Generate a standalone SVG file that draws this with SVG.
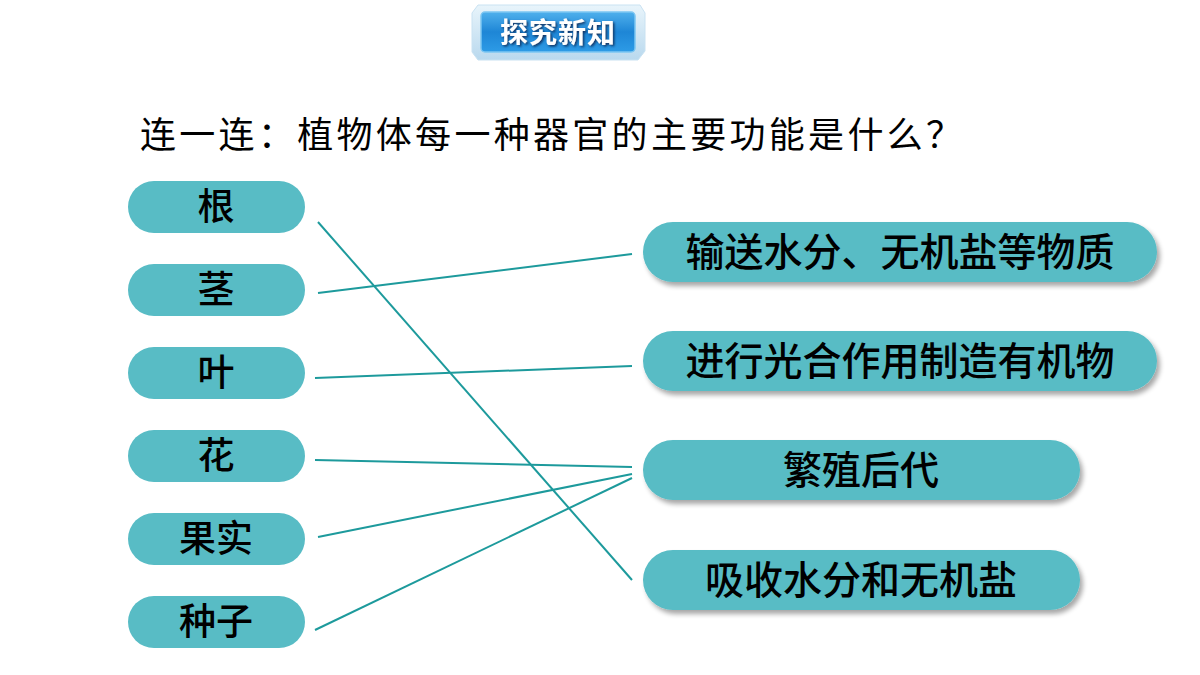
<svg xmlns="http://www.w3.org/2000/svg" width="1200" height="675" viewBox="0 0 1200 675">
<defs>
<filter id="sh" x="-10%" y="-30%" width="120%" height="170%">
<feGaussianBlur in="SourceAlpha" stdDeviation="2.5"/>
<feOffset dx="3" dy="4" result="b"/>
<feComponentTransfer><feFuncA type="linear" slope="0.35"/></feComponentTransfer>
<feMerge><feMergeNode/><feMergeNode in="SourceGraphic"/></feMerge>
</filter>
<filter id="ts" x="-10%" y="-30%" width="120%" height="160%">
<feDropShadow dx="1.5" dy="1.5" stdDeviation="0.8" flood-color="#0a2a55" flood-opacity="0.9"/>
</filter>
<linearGradient id="bg" x1="0" y1="0" x2="0" y2="1">
<stop offset="0" stop-color="#4fb0ec"/>
<stop offset="0.5" stop-color="#1e86d6"/>
<stop offset="1" stop-color="#2d9be6"/>
</linearGradient>
<linearGradient id="fr" x1="0" y1="0" x2="0" y2="1">
<stop offset="0" stop-color="#e8f4fb"/>
<stop offset="1" stop-color="#b9d9ee"/>
</linearGradient>
</defs>
<style>
.pill{fill:#58bcc5}
.lt{font-family:"Noto Sans CJK SC",sans-serif;font-weight:500;font-size:37px;fill:#000;text-anchor:middle}
.rt{font-family:"Noto Sans CJK SC",sans-serif;font-weight:500;font-size:39px;fill:#000;text-anchor:middle}
.ln{stroke:#1d9a9c;stroke-width:2;fill:none}
</style>
<rect width="1200" height="675" fill="#fff"/>
<g id="banner">
<path d="M478,5 H640 L645,13 V51 L638,60 H478 L472,52 V13 Z" fill="url(#fr)" stroke="#c9e2f2" stroke-width="1"/>
<rect x="481" y="12" width="154" height="40" rx="4" fill="url(#bg)" stroke="#7cc6f2" stroke-width="1.5"/>
<text x="558" y="43" font-family="Noto Sans CJK SC,sans-serif" font-size="28" font-weight="bold" fill="#fff" text-anchor="middle" letter-spacing="1" filter="url(#ts)">探究新知</text>
</g>
<g id="title">
<text x="140" y="148" font-family="Noto Sans CJK SC,sans-serif" font-size="36" fill="#000" textLength="822" lengthAdjust="spacing">连一连：植物体每一种器官的主要功能是什么？</text>
</g>
<g id="connectors">
<line class="ln" x1="318" y1="222" x2="632" y2="580"/>
<line class="ln" x1="318" y1="293" x2="632" y2="254"/>
<line class="ln" x1="315" y1="378" x2="632" y2="366"/>
<line class="ln" x1="315" y1="460" x2="632" y2="467"/>
<line class="ln" x1="318" y1="537" x2="632" y2="474"/>
<line class="ln" x1="315" y1="630" x2="632" y2="478"/>
</g>
<g id="n-gen"><rect class="pill" x="128" y="181" width="177" height="52" rx="26"/><text class="lt" x="216" y="220">根</text></g>
<g id="n-jing"><rect class="pill" x="128" y="264" width="177" height="52" rx="26"/><text class="lt" x="216" y="303">茎</text></g>
<g id="n-ye"><rect class="pill" x="128" y="347" width="177" height="52" rx="26"/><text class="lt" x="216" y="386">叶</text></g>
<g id="n-hua"><rect class="pill" x="128" y="430" width="177" height="52" rx="26"/><text class="lt" x="216" y="469">花</text></g>
<g id="n-guoshi"><rect class="pill" x="128" y="513" width="177" height="52" rx="26"/><text class="lt" x="216" y="552">果实</text></g>
<g id="n-zhongzi"><rect class="pill" x="128" y="596" width="177" height="52" rx="26"/><text class="lt" x="216" y="635">种子</text></g>
<g id="r-shusong"><rect class="pill" x="643" y="222" width="514" height="60" rx="30" filter="url(#sh)"/><text class="rt" x="900" y="266">输送水分、无机盐等物质</text></g>
<g id="r-guanghe"><rect class="pill" x="643" y="331" width="514" height="60" rx="30" filter="url(#sh)"/><text class="rt" x="900" y="375">进行光合作用制造有机物</text></g>
<g id="r-fanzhi"><rect class="pill" x="643" y="440" width="437" height="60" rx="30" filter="url(#sh)"/><text class="rt" x="861" y="484">繁殖后代</text></g>
<g id="r-xishou"><rect class="pill" x="643" y="550" width="437" height="60" rx="30" filter="url(#sh)"/><text class="rt" x="861" y="594">吸收水分和无机盐</text></g>
</svg>
